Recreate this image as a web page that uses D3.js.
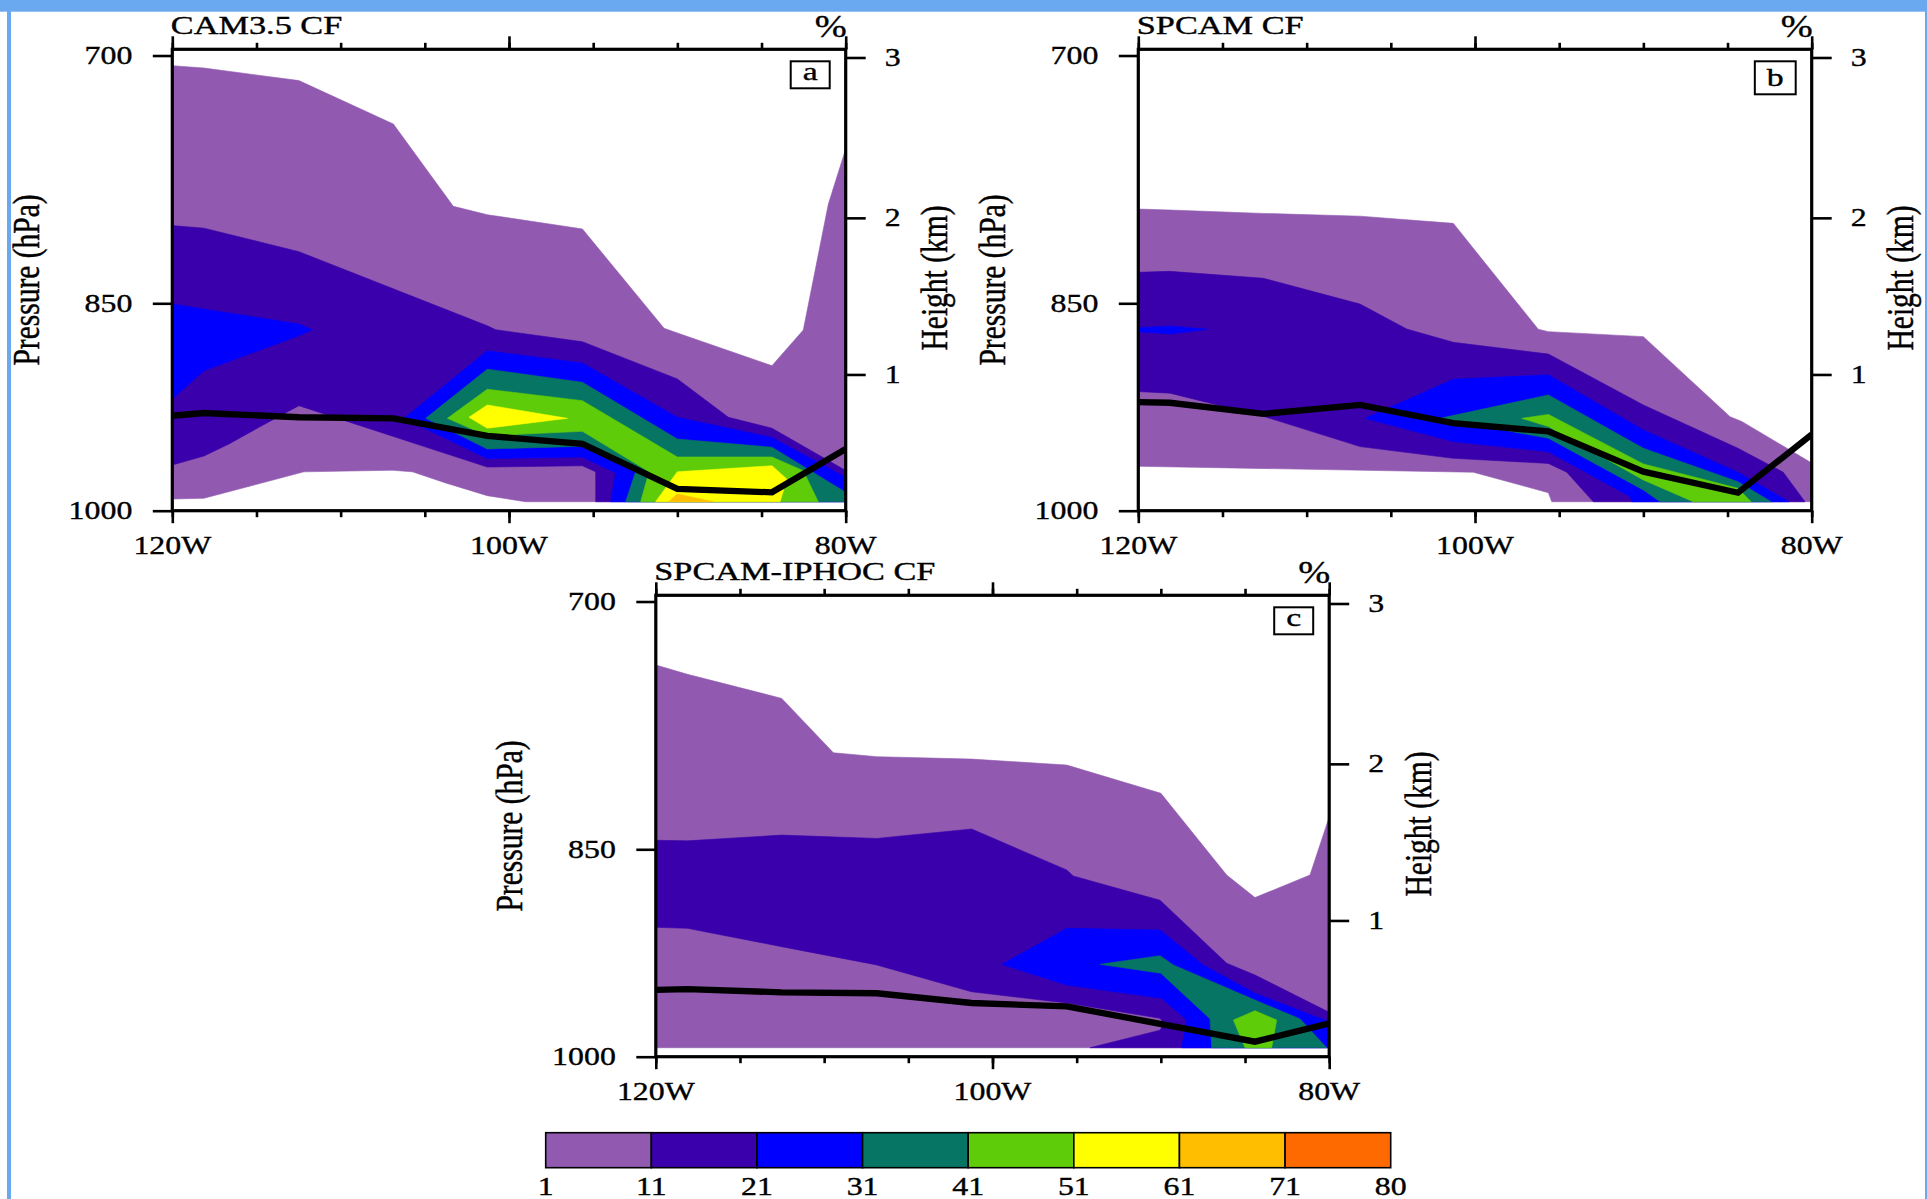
<!DOCTYPE html>
<html><head><meta charset="utf-8">
<script src="https://cdn.jsdelivr.net/npm/d3@7"></script>
<style>
body{margin:0;background:#fff}
svg{display:block}
text{font-family:"Liberation Serif","Times New Roman",serif;fill:#000;stroke:#000;stroke-width:0.35px}
</style>
</head><body>
<svg id="chart" width="1927" height="1199"></svg>
<script>
// ---------------- data ----------------
const cfLevels = [1, 11, 21, 31, 41, 51, 61, 71, 80];
const cfColors = ["#915ab0", "#3a00ab", "#0000ff", "#077563", "#5fcc0a", "#ffff00", "#ffbf00", "#ff6a00"];
const lonDomain = [-120, -80];
const lonTicks = [-120, -100, -80];
const lonTickLabels = ["120W", "100W", "80W"];
const lonMinorTicks = [-120, -115, -110, -105, -100, -95, -90, -85, -80];
const pressureDomain = [1000, 696.6];      // hPa, bottom to top of the frame
const pressureTicks = [700, 850, 1000];
const heightTicks = [1, 2, 3];             // km (standard atmosphere)
const panelTitles = ["CAM3.5 CF", "SPCAM CF", "SPCAM-IPHOC CF"];
const panelTags = ["a", "b", "c"];

// Cloud-fraction regions (CF >= level), vertices as [longitude (deg E), pressure (hPa)]
// Panel a: CAM3.5
const camCF1 = [[[-120,705.6],[-118.12,706.9],[-112.48,713.9],[-106.87,738.6],[-103.31,787.8],[-101.29,793.0],[-95.64,801.9],[-90.79,866.8],[-90.0,870.0],[-84.38,892.6],[-82.52,868.0],[-81.03,786.4],[-80,753.2],[-80,993],[-99.01,993],[-101.29,988.3],[-103.76,978.5],[-105.74,970.0],[-106.93,968.8],[-112.18,970.0],[-118.12,990.3],[-120,990.9]]];
const camCF11 = [[[-120,799.8],[-118.12,801.4],[-112.48,816.3],[-101.29,865.1],[-100.79,867.8],[-95.64,876.0],[-90.0,901.9],[-86.97,929.4],[-84.38,937.4],[-80,969.0],[-80,993],[-94.85,993],[-94.85,970.0],[-95.64,965.4],[-101.29,966.4],[-112.48,921.0],[-114.85,936.7],[-116.63,949.0],[-118.12,958.1],[-120,964.8]]];
const camCF21 = [[[-120,850.5],[-112.48,863.9],[-111.68,867.8],[-112.48,871.9],[-118.12,896.1],[-120,916.2]],
                 [[-106.24,930.2],[-101.29,882.2],[-95.64,890.7],[-90,929.4],[-84.38,944.2],[-80,974.2],[-80,993],[-93.96,993],[-93.66,970.8],[-95.64,958.8],[-101.29,960.0]]];
const camCF31 = [[[-104.95,930.2],[-101.29,895.0],[-95.64,904.3],[-90,945.4],[-84.38,951.5],[-80,985.7],[-80,993],[-93.07,993],[-92.48,970.0],[-95.64,950.8],[-101.29,952.8]]];
const camCF41 = [[[-103.66,930.2],[-101.29,909.2],[-95.64,917.4],[-90,958.8],[-84.38,958.8],[-82.52,969.1],[-81.63,993],[-92.18,993],[-91.68,970.0],[-95.64,939.7],[-101.29,943.0]]];
const camCF51 = [[[-102.38,929.4],[-101.29,920.5],[-96.53,930.2],[-101.29,937.4]],
                 [[-91.29,993],[-90,970.0],[-84.38,965.4],[-83.5,975.5],[-83.9,993]]];
const camCF61 = [[[-90.52,993],[-90,987.0],[-87.86,993]]];
const camLine = [[-120,928.3],[-118.12,926.3],[-112.48,929.4],[-106.87,930.2],[-101.29,943.0],[-95.64,949.0],[-90,983.1],[-84.38,985.7],[-80,952.8]];

// Panel b: SPCAM
const spCF1 = [[[-120,789.5],[-118.12,790.1],[-112.57,792.2],[-106.83,793.9],[-101.29,798.4],[-96.24,867.5],[-95.64,869.1],[-90,872.5],[-84.85,929.0],[-84.16,932.4],[-80,963.3],[-80,993],[-95.44,993],[-95.64,986.0],[-100.1,970.3],[-120,965.8]]];
const spCF11 = [[[-120,829.6],[-118.12,829.0],[-112.57,833.5],[-106.83,850.5],[-104.06,867.3],[-101.29,876.4],[-95.64,884.5],[-90,920.5],[-84.38,952.3],[-81.69,970.3],[-80.4,993],[-92.97,993],[-94.55,970.3],[-95.64,963.6],[-101.29,959.8],[-106.83,951.0],[-112.57,928.7],[-118.12,912.0],[-120,910.9]]];
const spCF21 = [[[-120,866.4],[-118.12,865.3],[-115.84,867.5],[-118.12,870.7],[-120,869.1]],
                [[-106.53,930.2],[-101.29,902.1],[-95.64,899.0],[-90,938.7],[-84.38,970.3],[-81.35,993],[-90.69,993],[-90.79,989.0],[-95.64,954.8],[-101.29,947.3]]];
const spCF31 = [[[-102.08,930.2],[-95.64,913.3],[-90,952.3],[-84.38,977.5],[-82.4,993],[-89.0,993],[-90,983.9],[-95.64,944.8]]];
const spCF41 = [[[-97.22,930.2],[-95.64,927.3],[-90,964.0],[-84.38,982.6],[-83.6,993],[-87.03,993],[-90,976.2],[-95.64,936.2]]];
const spLine = [[-120,918.4],[-118.12,918.9],[-112.57,926.9],[-106.83,920.5],[-101.29,933.7],[-95.64,939.8],[-90,969.9],[-84.38,986.0],[-80,942.1]];

// Panel c: SPCAM-IPHOC
const ipCF1 = [[[-120,735.7],[-118.12,741.1],[-112.52,755.2],[-109.45,788.1],[-106.88,790.5],[-101.24,792.0],[-95.59,795.7],[-90.0,813.5],[-86.09,867.3],[-84.41,882.8],[-81.14,867.3],[-80,828.7],[-80,993],[-120,993]]];
const ipCF11 = [[[-120,844.0],[-118.12,844.4],[-112.52,840.6],[-106.88,842.8],[-101.24,836.6],[-95.59,863.9],[-95.2,868.0],[-90.05,884.6],[-86.09,929.4],[-84.41,938.0],[-80,965.8],[-80,993],[-94.21,993],[-90.05,979.4],[-89.81,974.2],[-90.05,970.3],[-95.59,958.8],[-101.24,950.4],[-106.88,930.6],[-112.52,917.4],[-118.12,904.3],[-120,903.6]]];
const ipCF21 = [[[-99.45,930.2],[-95.59,904.3],[-90.05,905.5],[-87.48,930.6],[-84.41,951.5],[-80,973.0],[-80,993],[-88.76,993],[-88.47,971.7],[-89.95,955.3],[-95.59,945.4]]];
const ipCF31 = [[[-93.61,930.2],[-90.05,923.9],[-89.26,930.6],[-84.41,956.6],[-81.73,970.8],[-80.15,993],[-86.98,993],[-87.08,970.8],[-90,936.7]]];
const ipCF41 = [[[-85.69,971.7],[-84.41,964.6],[-83.12,971.7],[-83.42,993],[-85.0,993]]];
const ipLine = [[-120,949.0],[-118.12,948.5],[-112.52,950.8],[-106.88,951.5],[-101.24,958.8],[-95.59,961.3],[-84.41,988.3],[-80,974.2]];

// ---------------- drawing ----------------
const svg = d3.select("#chart");
const W = 673.4, H = 461.4;
const panels = [
  {x0: 172.3, y0: 49.3, bands: [camCF1, camCF11, camCF21, camCF31, camCF41, camCF51, camCF61], line: camLine},
  {x0: 1138.3, y0: 49.3, bands: [spCF1, spCF11, spCF21, spCF31, spCF41], line: spLine},
  {x0: 655.8, y0: 595.3, bands: [ipCF1, ipCF11, ipCF21, ipCF31, ipCF41], line: ipLine}
];
// standard atmosphere pressure (hPa) for height z (km)
const pStd = z => 1013.25 * Math.pow(1 - 0.0065 * z * 1000 / 288.15, 5.25588);

function label(g, str, x, y, o) {
  o = o || {};
  const sx = o.sx || 1.3;
  return g.append("text")
    .attr("transform", `translate(${x},${y}) scale(${sx},1)` + (o.rot ? " rotate(-90)" : ""))
    .attr("font-size", o.fs || 24.5)
    .attr("text-anchor", o.anchor || "start")
    .text(str);
}

panels.forEach((P, i) => {
  const xs = d3.scaleLinear().domain(lonDomain).range([P.x0, P.x0 + W]);
  const ys = d3.scaleLog().domain(pressureDomain).range([P.y0 + H, P.y0]);
  const g = svg.append("g");
  const cid = "clip" + i;
  svg.append("clipPath").attr("id", cid).append("rect")
    .attr("x", P.x0).attr("y", P.y0).attr("width", W).attr("height", H);
  const gd = g.append("g").attr("clip-path", `url(#${cid})`);
  const path = d3.line().x(d => xs(d[0])).y(d => ys(d[1]));
  P.bands.forEach((polys, k) => {
    polys.forEach(poly => {
      gd.append("path").attr("d", path(poly) + "Z").attr("fill", cfColors[k])
        .attr("stroke", cfColors[k]).attr("stroke-width", 0.6);
    });
  });
  gd.append("path").attr("d", path(P.line)).attr("fill", "none")
    .attr("stroke", "#000").attr("stroke-width", 6.3).attr("stroke-linejoin", "miter");

  const yB = P.y0 + H, yT = P.y0, xR = P.x0 + W;
  const style = sel => { sel.select(".domain").remove(); sel.selectAll("line").attr("stroke", "#000").attr("stroke-width", 2.6); };
  g.append("g").attr("transform", `translate(0,${yB})`)
    .call(d3.axisBottom(xs).tickValues(lonMinorTicks).tickSize(6.5).tickSizeOuter(0).tickFormat("")).call(style);
  g.append("g").attr("transform", `translate(0,${yB})`)
    .call(d3.axisBottom(xs).tickValues(lonTicks).tickSize(12.5).tickSizeOuter(0).tickFormat("")).call(style);
  g.append("g").attr("transform", `translate(0,${yT})`)
    .call(d3.axisTop(xs).tickValues(lonMinorTicks).tickSize(6.5).tickSizeOuter(0).tickFormat("")).call(style);
  g.append("g").attr("transform", `translate(0,${yT})`)
    .call(d3.axisTop(xs).tickValues(lonTicks).tickSize(13).tickSizeOuter(0).tickFormat("")).call(style);
  g.append("g").attr("transform", `translate(${P.x0},0)`)
    .call(d3.axisLeft(ys).tickValues(pressureTicks).tickSize(19.5).tickSizeOuter(0).tickFormat("")).call(style);
  g.append("g").attr("transform", `translate(${xR},0)`)
    .call(d3.axisRight(ys).tickValues(heightTicks.map(pStd)).tickSize(20).tickSizeOuter(0).tickFormat("")).call(style);
  g.append("rect").attr("x", P.x0).attr("y", yT).attr("width", W).attr("height", H)
    .attr("fill", "none").attr("stroke", "#000").attr("stroke-width", 3.2);

  lonTicks.forEach((v, j) => label(g, lonTickLabels[j], xs(v), yB + 43, {anchor: "middle"}));
  pressureTicks.forEach(v => label(g, String(v), P.x0 - 40, ys(v) + 8.3, {anchor: "end"}));
  heightTicks.forEach(z => label(g, String(z), xR + 39, ys(pStd(z)) + 8.3));
  const yc = (yT + yB) / 2;
  label(g, "Pressure (hPa)", P.x0 - 133.5, yc, {rot: true, anchor: "middle", fs: 29.5, sx: 1.32});
  label(g, "Height (km)", xR + 101.5, yc - 2, {rot: true, anchor: "middle", fs: 29.5, sx: 1.32});
  label(g, panelTitles[i], P.x0 - 1.5, yT - 15, {fs: 24.5, sx: 1.4});
  label(g, "%", xR + 1, yT - 12, {anchor: "end", fs: 32, sx: 1.2});

  const tag = panelTags[i];
  const tall = /[bdfhklt]/.test(tag);
  const bh = tall ? 33 : 27;
  const box = g.append("rect").attr("fill", "#fff").attr("stroke", "#000").attr("stroke-width", 2);
  const tt = label(g, tag, 0, 0, {anchor: "middle", fs: 25, sx: 1.35});
  const bw = tt.node().getComputedTextLength() * 1.35 + 24;
  const bx = xR - 16 - bw, by = yT + 12;
  box.attr("x", bx).attr("y", by).attr("width", bw).attr("height", bh);
  tt.attr("transform", `translate(${bx + bw / 2},${by + bh - 8}) scale(1.35,1)`);
});

// colour bar
const cb = svg.append("g");
const cx = d3.scaleLinear().domain([0, cfColors.length]).range([545.7, 1390.7]);
const cbY = 1132.7, cbH = 35;
cfColors.forEach((c, k) => {
  cb.append("rect").attr("x", cx(k)).attr("y", cbY).attr("width", cx(k + 1) - cx(k)).attr("height", cbH)
    .attr("fill", c).attr("stroke", "#000").attr("stroke-width", 1.6);
});
cfLevels.forEach((v, k) => label(cb, String(v), cx(k), 1195, {anchor: "middle", sx: 1.3}));

// light-blue page border
svg.append("rect").attr("x", 0).attr("y", 0).attr("width", 1927).attr("height", 11.7).attr("fill", "#6aa9f0");
svg.append("rect").attr("x", 7).attr("y", 0).attr("width", 4).attr("height", 1199).attr("fill", "#6aa9f0");
svg.append("rect").attr("x", 1925).attr("y", 0).attr("width", 2).attr("height", 1199).attr("fill", "#6aa9f0");
</script>
</body></html>
